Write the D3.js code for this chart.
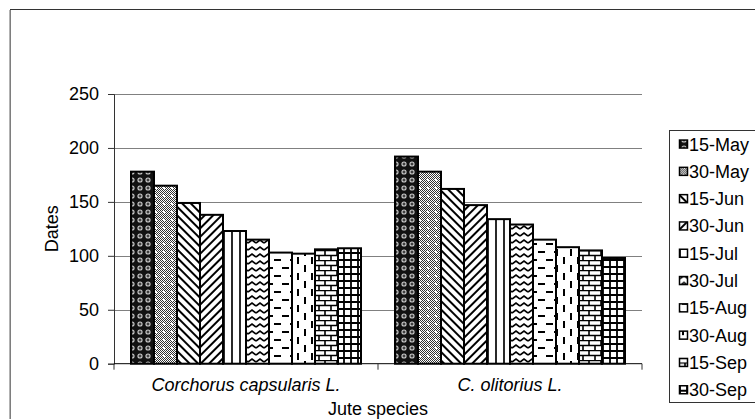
<!DOCTYPE html>
<html><head><meta charset="utf-8">
<script src="https://cdn.jsdelivr.net/npm/d3@7"></script>
<style>body{margin:0;background:#fff}svg{display:block}text{font-family:"Liberation Sans",Arial,sans-serif}</style>
</head><body>
<svg id="c" width="755" height="419"></svg>
<script>
const categories = ["Corchorus capsularis L.", "C. olitorius L."];
const dates = ["15-May","30-May","15-Jun","30-Jun","15-Jul","30-Jul","15-Aug","30-Aug","15-Sep","30-Sep"];
const capsularis = [178,165,149,138,123,115,103,102,106,107];
const olitorius  = [192,178,162,147,134,129,115,108,105,98];
const yTicks = [0,50,100,150,200,250];
const seriesValues = [capsularis, olitorius];

(function(){
const FS = 18;
const svg = d3.select("#c");
const defs = svg.append("defs");

function pat(id, w, h, draw, transform, ox){
  const p = defs.append("pattern").attr("id", id).attr("patternUnits","userSpaceOnUse")
    .attr("width", w).attr("height", h);
  if (transform) p.attr("patternTransform", transform);
  if (ox) p.attr("x", ox);
  p.append("rect").attr("width", w).attr("height", h).attr("fill", "#fff");
  draw(p);
}
pat("p0", 8, 8, p => {
  p.append("rect").attr("width",8).attr("height",8).attr("fill","#111");
  p.append("circle").attr("cx",4).attr("cy",4).attr("r",2.6).attr("fill","#c8c8c8");
  p.append("path").attr("d","M4,2.5V5.5M2.5,4H5.5").attr("stroke","#111").attr("stroke-width",1);
});
pat("p1", 8, 8, p => {
  for (let i=0;i<8;i++) for (let j=0;j<8;j++) if ((i+j)%2===0)
    p.append("rect").attr("x",i).attr("y",j).attr("width",1).attr("height",1).attr("fill","#333");
  p.append("rect").attr("x",3).attr("y",3).attr("width",2).attr("height",2).attr("fill","#fff");
});
pat("p2", 6, 6, p => {
  p.append("line").attr("x1",3).attr("x2",3).attr("y1",0).attr("y2",6).attr("stroke","#000").attr("stroke-width",2);
}, "rotate(-45)");
pat("p3", 6, 6, p => {
  p.append("line").attr("x1",3).attr("x2",3).attr("y1",0).attr("y2",6).attr("stroke","#000").attr("stroke-width",2);
}, "rotate(45)");
pat("p4", 8, 8, p => {
  p.append("line").attr("x1",4).attr("x2",4).attr("y1",0).attr("y2",8).attr("stroke","#111").attr("stroke-width",1.8);
}, null, -4);
pat("p5", 8, 7, p => {
  p.append("path").attr("d","M0,5 L4,2 L8,5").attr("fill","none").attr("stroke","#000").attr("stroke-width",1.6);
});
pat("p6", 16, 16, p => {
  p.append("path").attr("d","M2,4H9M10,12H17M-6,12H1").attr("stroke","#000").attr("stroke-width",2);
});
pat("p7", 14, 16, p => {
  p.append("path").attr("d","M4,1V8M11,9V16M11,-7V0").attr("stroke","#000").attr("stroke-width",2);
});
pat("p8", 12, 10, p => {
  p.append("path").attr("d","M0,0.5H12M0,5.5H12M1,0.5V5.5M7,5.5V10").attr("fill","none").attr("stroke","#000").attr("stroke-width",1.6);
});
pat("p9", 7, 7, p => {
  p.append("path").attr("d","M0,1H7M1,0V7").attr("fill","none").attr("stroke","#000").attr("stroke-width",1.8);
});

// outer frame
svg.append("rect").attr("x",10.5).attr("y",9.5).attr("width",760).attr("height",430)
  .attr("fill","none").attr("stroke","#333").attr("stroke-width",1);
svg.append("line").attr("x1",10).attr("x2",10).attr("y1",10).attr("y2",419).attr("stroke","#999").attr("stroke-width",1.5);

const pl = 114, pr = 642, pt = 94, pb = 363.7;
const x0 = d3.scaleBand().domain(categories).range([pl,pr]).paddingInner(0.1288).paddingOuter(0.0644);
const x1 = d3.scaleBand().domain(dates).range([0, x0.bandwidth()]);
const y = d3.scaleLinear().domain([0,250]).range([pb, pt]);

svg.append("g").selectAll("line").data(yTicks.filter(d=>d>0)).join("line")
  .attr("x1",pl).attr("x2",pr).attr("y1",d=>Math.round(y(d))+0.5).attr("y2",d=>Math.round(y(d))+0.5)
  .attr("stroke","#808080").attr("stroke-width",1);

const groups = svg.append("g").selectAll("g").data(categories).join("g");
groups.selectAll("rect").data((c,i) => dates.map((d,j)=>({c, d, j, v: seriesValues[i][j]}))).join("rect")
  .attr("x", e => x0(e.c) + x1(e.d)).attr("width", x1.bandwidth())
  .attr("y", e => y(e.v)).attr("height", e => y(0) - y(e.v))
  .attr("fill", e => `url(#p${e.j})`).attr("stroke","#000").attr("stroke-width",2);

const yAxis = svg.append("g").attr("transform",`translate(${pl},0)`)
  .call(d3.axisLeft(y).tickValues(yTicks).tickSize(6).tickPadding(9));
yAxis.select(".domain").attr("stroke","#333");
yAxis.selectAll(".tick line").attr("stroke","#333");
yAxis.selectAll("text").attr("font-size",FS).attr("fill","#000").attr("font-family","Liberation Sans, Arial, sans-serif");

svg.append("line").attr("x1",pl).attr("x2",pr).attr("y1",pb).attr("y2",pb).attr("stroke","#000").attr("stroke-width",1);
const bounds = [pl, x0(categories[1]) - x0.step()*x0.paddingInner()/2, pr];
svg.append("g").selectAll("line").data(bounds).join("line")
  .attr("x1",d=>d).attr("x2",d=>d).attr("y1",pb).attr("y2",pb+6).attr("stroke","#333");
svg.append("g").selectAll("text").data(categories).join("text")
  .attr("x", d => x0(d) + x0.bandwidth()/2).attr("y", 391)
  .attr("text-anchor","middle").attr("font-size",FS).attr("font-style","italic").text(d=>d);

svg.append("text").attr("x",(pl+pr)/2).attr("y",415).attr("text-anchor","middle").attr("font-size",FS).text("Jute species");
svg.append("text").attr("transform",`translate(58,${(pt+pb)/2}) rotate(-90)`).attr("text-anchor","middle").attr("font-size",FS).text("Dates");

const lg = svg.append("g");
lg.append("rect").attr("x",669.5).attr("y",130.5).attr("width",100).attr("height",272)
  .attr("fill","#fff").attr("stroke","#333").attr("stroke-width",1);
const ly = d3.scaleBand().domain(dates).range([130.4, 403.4]);
const items = lg.selectAll("g").data(dates).join("g")
  .attr("transform", d => `translate(0,${ly(d)+ly.bandwidth()/2})`);
items.append("rect").attr("x",679.5).attr("y",-4).attr("width",8).attr("height",8)
  .attr("fill",(d,i)=>`url(#p${i})`).attr("stroke","#000").attr("stroke-width",1.5);
items.append("text").attr("x",689).attr("y",0).attr("dy","0.36em").attr("font-size",FS).text(d=>d);
})();
</script>
</body></html>
